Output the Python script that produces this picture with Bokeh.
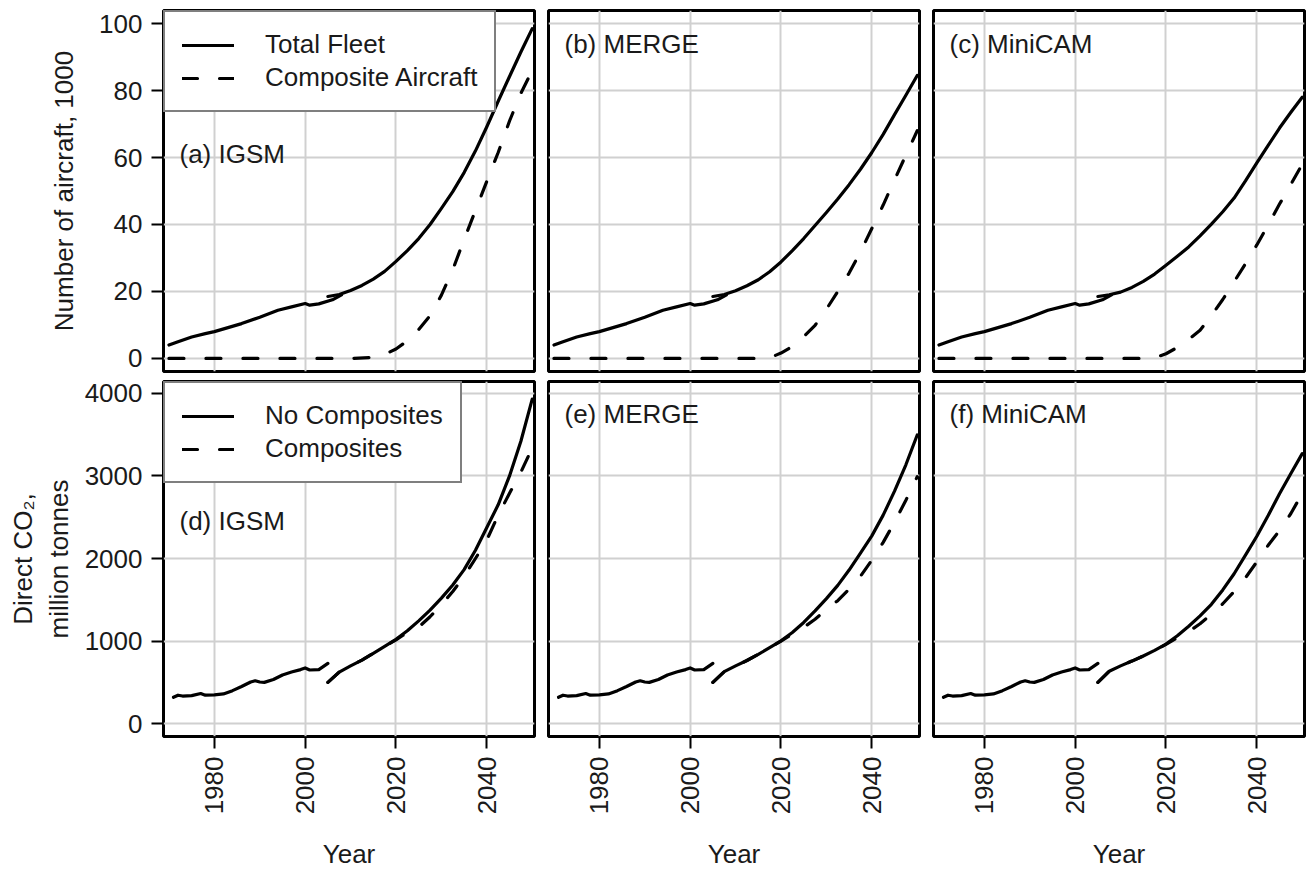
import math
from bokeh.plotting import figure
from bokeh.layouts import gridplot
from bokeh.models import Legend, LegendItem, Label, Range1d
from bokeh.embed import file_html
from bokeh.resources import INLINE

# ---------------- data ----------------
year_ticks = [1980, 2000, 2020, 2040]
fleet_ticks = [0, 20, 40, 60, 80, 100]
co2_ticks = [0, 1000, 2000, 3000, 4000]

# historical fleet (thousand aircraft), identical in panels a-c
fleet_hist_years = [1970, 1972, 1975, 1978, 1980, 1983, 1986, 1990, 1994, 1997, 2000, 2001, 2003, 2006, 2008]
fleet_hist = [4.0, 5.0, 6.4, 7.4, 8.0, 9.2, 10.4, 12.3, 14.4, 15.4, 16.4, 15.9, 16.3, 17.5, 19.0]

# projected total fleet
proj_years = [2005, 2007.5, 2010, 2012.5, 2015, 2017.5, 2020, 2022.5, 2025, 2027.5,
              2030, 2032.5, 2035, 2037.5, 2040, 2042.5, 2045, 2047.5, 2050]
fleet_igsm = [18.5, 19.1, 20.3, 21.8, 23.7, 26.0, 29.0, 32.2, 35.8, 40.0,
              44.8, 49.8, 55.5, 62.0, 69.2, 76.8, 84.2, 91.5, 98.5]
fleet_merge = [18.5, 19.1, 20.2, 21.7, 23.5, 25.9, 28.8, 32.2, 35.8, 39.7,
               43.6, 47.6, 51.9, 56.5, 61.5, 66.9, 72.8, 78.6, 84.5]
fleet_minicam = [18.5, 19.0, 19.8, 21.2, 23.0, 25.2, 27.8, 30.5, 33.3, 36.6,
                 40.1, 43.8, 47.9, 53.0, 58.4, 63.6, 68.8, 73.5, 78.0]

# composite aircraft
comp_years = [1970, 2000, 2010, 2015, 2017.5, 2020, 2022.5, 2025, 2027.5,
              2030, 2032.5, 2035, 2037.5, 2040, 2042.5, 2045, 2047.5, 2050]
comp_igsm = [0, 0, 0, 0.3, 1.2, 2.8, 5.3, 8.6, 12.8,
             18.9, 26.5, 35.5, 44.2, 52.9, 61.5, 70.9, 79.2, 86.0]
comp_merge = [0, 0, 0, 0, 0.2, 1.6, 3.6, 6.5, 9.9,
              14.7, 20.0, 25.5, 31.8, 38.8, 45.8, 53.3, 60.7, 68.0]
comp_minicam = [0, 0, 0, 0, 0.2, 1.4, 3.3, 5.7, 8.4,
                12.8, 17.6, 22.9, 28.3, 33.9, 39.9, 46.1, 52.0, 58.0]

# historical direct CO2 (million tonnes), identical in panels d-f
co2_hist_years = [1971, 1972, 1973, 1975, 1977, 1978, 1980, 1982, 1984, 1986, 1988, 1989,
                  1990, 1991, 1993, 1995, 1997, 1999, 2000, 2001, 2003, 2005]
co2_hist = [320, 345, 335, 340, 365, 345, 350, 360, 400, 450, 505, 520,
            505, 500, 535, 590, 625, 655, 675, 650, 655, 730]

# projected direct CO2
co2_years = [2005, 2007.5, 2010, 2012.5, 2015, 2017.5, 2020, 2022.5, 2025, 2027.5,
             2030, 2032.5, 2035, 2037.5, 2040, 2042.5, 2045, 2047.5, 2050]
nocomp_igsm = [500, 625, 700, 770, 852, 935, 1022, 1125, 1245, 1375,
               1520, 1680, 1865, 2100, 2375, 2650, 3000, 3420, 3930]
withcomp_igsm = [500, 625, 700, 770, 852, 935, 1015, 1105, 1170, 1295,
                 1440, 1600, 1785, 2000, 2225, 2525, 2790, 3045, 3340]
nocomp_merge = [500, 630, 700, 765, 840, 920, 1004, 1105, 1226, 1365,
                1514, 1675, 1860, 2065, 2274, 2525, 2815, 3135, 3495]
withcomp_merge = [500, 630, 700, 765, 840, 920, 1000, 1085, 1165, 1265,
                  1380, 1490, 1630, 1785, 1980, 2195, 2440, 2705, 2990]
nocomp_minicam = [500, 635, 700, 758, 820, 888, 964, 1065, 1180, 1305,
                  1445, 1620, 1815, 2040, 2270, 2520, 2785, 3030, 3270]
withcomp_minicam = [500, 635, 700, 758, 820, 888, 960, 1040, 1115, 1210,
                    1325, 1452, 1600, 1767, 1960, 2160, 2340, 2545, 2787]

# ---------------- styling ----------------
FONT = "Liberation Sans"
TEXT = "#1a1a1a"
FS = "26px"
FRAME_W = 371
FRAME_H = 361
DASH = "15 22"
X_RANGE = (1968.8, 2050.5)
FLEET_RANGE = (-3.9, 103.9)
CO2_RANGE = (-155, 4143)


def make_fig(row, col):
    left = 163 if col == 0 else 11
    right = 3
    top = 10 if row == 0 else 7
    bottom = 3 if row == 0 else 130
    yr = FLEET_RANGE if row == 0 else CO2_RANGE
    p = figure(width=left + FRAME_W + right, height=top + FRAME_H + bottom,
               x_range=Range1d(*X_RANGE), y_range=Range1d(*yr),
               output_backend="svg", toolbar_location=None,
               min_border_left=left, min_border_right=right,
               min_border_top=top, min_border_bottom=bottom)
    p.background_fill_color = "white"
    p.border_fill_color = "white"
    p.outline_line_color = "black"
    p.outline_line_width = 3
    yticks = fleet_ticks if row == 0 else co2_ticks
    p.xaxis.ticker = year_ticks
    p.yaxis.ticker = yticks
    p.xgrid.ticker = year_ticks
    p.ygrid.ticker = yticks
    for g in (p.xgrid, p.ygrid):
        g.grid_line_color = "#d0d0d0"
        g.grid_line_width = 2
    for ax in (p.xaxis, p.yaxis):
        ax.axis_line_color = None
        ax.major_tick_line_color = "black"
        ax.major_tick_line_width = 2
        ax.major_tick_in = 0
        ax.major_tick_out = 12
        ax.minor_tick_line_color = None
        ax.major_label_text_font = FONT
        ax.major_label_text_font_size = FS
        ax.major_label_text_color = TEXT
        ax.axis_label_text_font = FONT
        ax.axis_label_text_font_size = FS
        ax.axis_label_text_font_style = "normal"
        ax.axis_label_text_color = TEXT
    p.yaxis.major_label_standoff = 9
    p.xaxis.major_label_standoff = 8
    p.xaxis.major_label_orientation = math.pi / 2
    if row == 1:
        p.xaxis.axis_label = "Year"
        p.xaxis.axis_label_standoff = 22
    else:
        p.xaxis.visible = False
    if col == 0:
        if row == 0:
            p.yaxis.axis_label = "Number of aircraft, 1000"
            p.yaxis.axis_label_standoff = 17
        else:
            p.yaxis.axis_label = "Direct CO\u2082,\nmillion tonnes"
            p.yaxis.axis_label_standoff = 8
    else:
        p.yaxis.visible = False
    return p


def add_line(p, x, y, dash="solid"):
    return p.line(x, y, line_color="black", line_width=3.2, line_dash=dash,
                  line_cap="round", line_join="round")


def add_tag(p, text, y):
    p.add_layout(Label(x=16, x_units="screen", y=y, y_units="data", text=text,
                       text_baseline="middle", text_font=FONT, text_font_size=FS,
                       text_color=TEXT))


def add_legend(p, items):
    lg = Legend(items=items, location="top_left", margin=0, padding=17, spacing=2,
                glyph_width=52, glyph_height=30, label_height=30, label_standoff=31,
                label_text_font=FONT, label_text_font_size=FS, label_text_color=TEXT,
                border_line_color="black", border_line_width=2.5,
                background_fill_color="white", background_fill_alpha=1.0)
    p.add_layout(lg)


top_series = [("(a) IGSM", fleet_igsm, comp_igsm, 61),
              ("(b) MERGE", fleet_merge, comp_merge, 94),
              ("(c) MiniCAM", fleet_minicam, comp_minicam, 94)]
bottom_series = [("(d) IGSM", nocomp_igsm, withcomp_igsm, 2450),
                 ("(e) MERGE", nocomp_merge, withcomp_merge, 3755),
                 ("(f) MiniCAM", nocomp_minicam, withcomp_minicam, 3755)]

top_row = []
for col, (tag, total, comp, ty) in enumerate(top_series):
    p = make_fig(0, col)
    add_line(p, fleet_hist_years, fleet_hist)
    r_total = add_line(p, proj_years, total)
    r_comp = add_line(p, comp_years, comp, DASH)
    add_tag(p, tag, ty)
    if col == 0:
        add_legend(p, [LegendItem(label="Total Fleet", renderers=[r_total]),
                       LegendItem(label="Composite Aircraft", renderers=[r_comp])])
    top_row.append(p)

bottom_row = []
for col, (tag, nocomp, withcomp, ty) in enumerate(bottom_series):
    p = make_fig(1, col)
    add_line(p, co2_hist_years, co2_hist)
    r_no = add_line(p, co2_years, nocomp)
    r_with = add_line(p, co2_years, withcomp, DASH)
    add_tag(p, tag, ty)
    if col == 0:
        add_legend(p, [LegendItem(label="No Composites", renderers=[r_no]),
                       LegendItem(label="Composites", renderers=[r_with])])
    bottom_row.append(p)

grid = gridplot([top_row, bottom_row], toolbar_location=None)

open("out.html", "w").write(file_html(grid, INLINE))
